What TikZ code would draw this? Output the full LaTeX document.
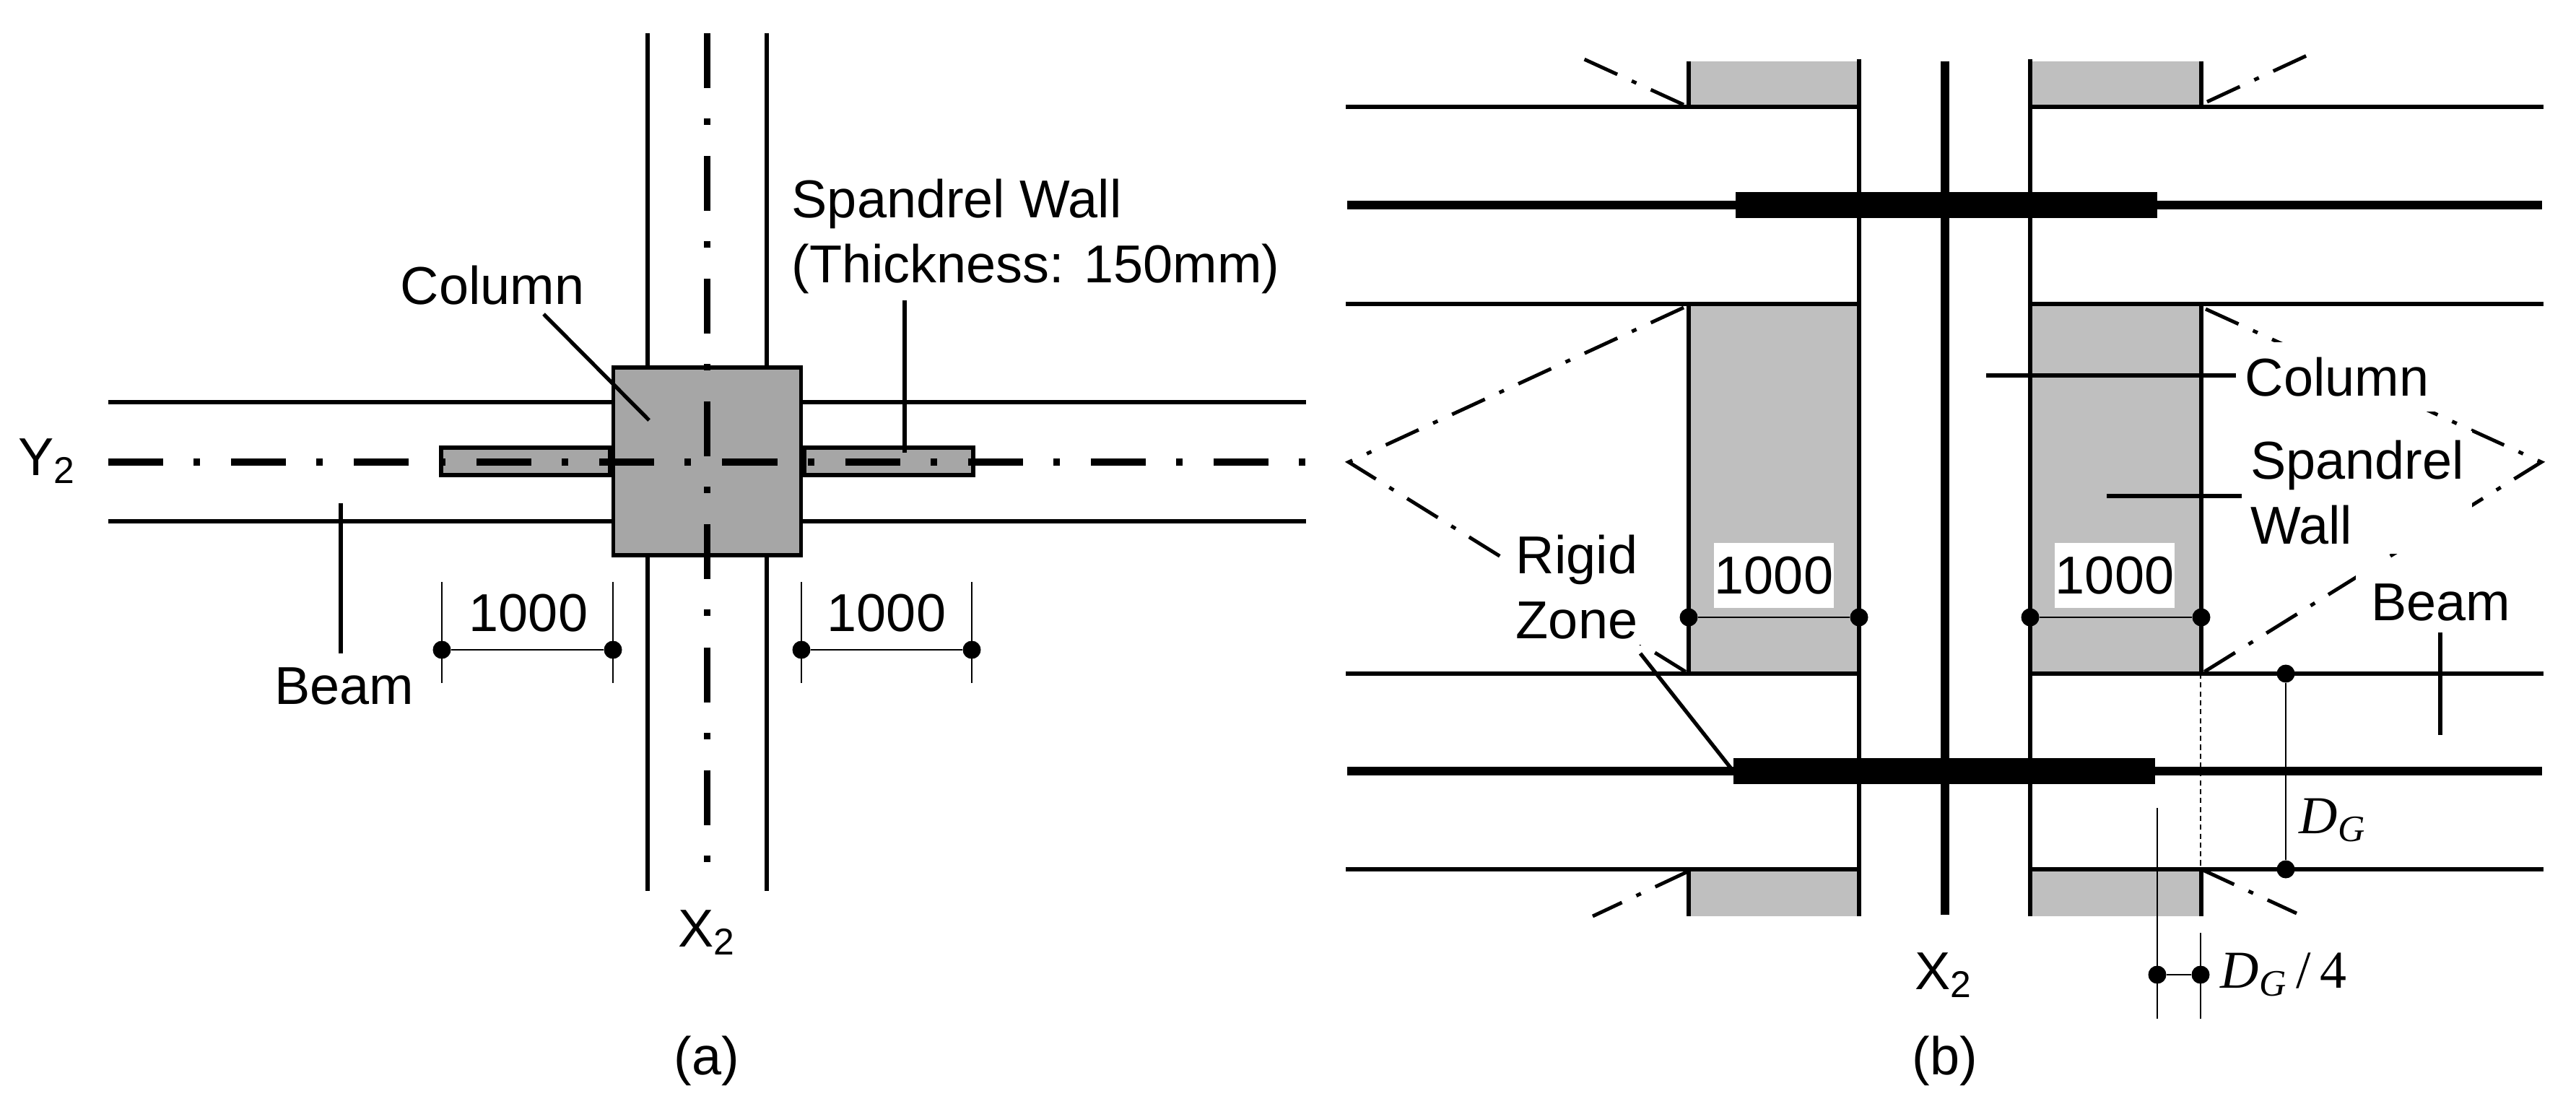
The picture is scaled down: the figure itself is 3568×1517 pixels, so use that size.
\documentclass[tikz,border=0pt]{standalone}
\usepackage{fontspec}
\setmainfont{Liberation Sans}
\newfontfamily\dimfont{Liberation Serif}
\usetikzlibrary{positioning}

\definecolor{colgray}{HTML}{A6A6A6}
\definecolor{zonegray}{HTML}{BFBFBF}
\newcommand{\dimsym}{{\dimfont\itshape D\textsubscript{G}}}

\begin{document}
\begin{tikzpicture}[
    x=0.01cm, y=-0.01cm,
    member/.style={line width=1.5pt},
    axisline/.style={line width=2.6pt, dash pattern=on 0.76cm off 0.42cm on 0.09cm off 0.43cm},
    zoneline/.style={line width=1.4pt, dash pattern=on 0.5cm off 0.22cm on 0.07cm off 0.22cm},
    beamaxis/.style={line width=3.4pt},
    dimline/.style={line width=0.7pt},
    dimdot/.style={circle, fill=black, inner sep=0pt, minimum size=0.25cm},
    colbox/.style={rectangle, draw=black, line width=1.5pt, fill=colgray, minimum size=2.6cm, inner sep=0pt},
    wallbox/.style={rectangle, draw=black, line width=1.5pt, fill=colgray, minimum width=2.33cm, minimum height=0.38cm, inner sep=0pt},
    rigidbar/.style={rectangle, fill=black, inner sep=0pt, minimum width=5.83cm, minimum height=0.36cm},
    txt/.style={font=\fontsize{21}{25.8}\selectfont, inner sep=0pt},
    whitetxt/.style={txt, fill=white, align=left}
]
\useasboundingbox (0,0) rectangle (3568,1517);

% (a) plan
\draw[member] (897,46) -- (897,1234);
\draw[member] (1062,46) -- (1062,1234);
\draw[member] (150,557) -- (1809,557);
\draw[member] (150,722) -- (1809,722);

\node[colbox] (column) at (979.5,639) {};
\node[wallbox, left=0pt of column] (wallL) {};
\node[wallbox, right=0pt of column] (wallR) {};

\draw[axisline] (979.5,46) -- (979.5,1197);
\draw[axisline] (150,640) -- (1809,640);

\node[txt] (Y2) at (65,639) {Y\textsubscript{2}};
\node[txt] (X2a) at (979,1292) {X\textsubscript{2}};
\node[txt] (capA) at (979,1469) {(a)};

\node[txt] (colA) at (682,395) {Column};
\coordinate (colAend) at (899,582);
\draw[member] (753,435) -- (colAend);
\node[txt, align=left, anchor=north west] (wallA) at (1096,247) {Spandrel Wall\\(Thickness: 150mm)};
\coordinate (wallAend) at (1253,627);
\draw[member] (1253,416) -- (wallAend);
\node[txt] (beamA) at (477,950) {Beam};
\coordinate (beamAend) at (472,697);
\draw[member] (472,905) -- (beamAend);

% (a) dimensions
\foreach \nm/\px in {p1/612, p2/849, p3/1110, p4/1346} {
    \node[dimdot] (\nm) at (\px,900) {};
    \draw[dimline] (\px,806) -- (\px,946);
}
\draw[dimline] (p1) -- (p2);
\draw[dimline] (p3) -- (p4);
\node[txt] (dimA1) at (732,849) {1000};
\node[txt] (dimA2) at (1228,849) {1000};

% (b) elevation
\fill[zonegray] (2339,85) rectangle (2575,148);
\fill[zonegray] (2812,85) rectangle (3049,148);
\fill[zonegray] (2339,421) rectangle (2575,933);
\fill[zonegray] (2812,421) rectangle (3049,933);
\fill[zonegray] (2339,1204) rectangle (2575,1269);
\fill[zonegray] (2812,1204) rectangle (3049,1269);

% rigid zone limits
\draw[zoneline] (2332,145) -- (2192,81);
\draw[zoneline] (3057,141) -- (3195,77);
\draw[zoneline] (2332,426) -- (1868,640) -- (2339,933);
\draw[zoneline] (3055,428) -- (3520,640) -- (3049,933);
\draw[zoneline] (2338,1207) -- (2206,1269);
\draw[zoneline] (3049,1204) -- (3181,1265);

\foreach \py in {148,421,933,1204} {
    \draw[member] (1864,\py) -- (2575,\py);
    \draw[member] (2812,\py) -- (3523,\py);
}
\foreach \px in {2575,2812} {
    \draw[member] (\px,82) -- (\px,1269);
}
\foreach \px in {2339,3049} {
    \draw[member] (\px,85) -- (\px,148);
    \draw[member] (\px,421) -- (\px,933);
    \draw[member] (\px,1204) -- (\px,1269);
}

\draw[beamaxis] (2694,85) -- (2694,1267);
\draw[beamaxis] (1866,284) -- (3521,284);
\draw[beamaxis] (1866,1068) -- (3521,1068);
\node[rigidbar] (barT) at (2696,284) {};
\node[rigidbar] (barB) at (2693,1068) {};

% (b) labels
\node[whitetxt, minimum width=2.8cm, minimum height=0.95cm, text width=2.56cm] (colB) at (3238,522) {Column};
\node[whitetxt, minimum width=3.18cm, minimum height=1.7cm] (wallB) at (3265,682) {Spandrel\\Wall};
\node[whitetxt, inner xsep=0.22cm, minimum height=1.1cm] (beamB) at (3381,834) {Beam};
\node[whitetxt, minimum width=1.95cm, minimum height=1.6cm] (rigidB) at (2184,813) {Rigid\\Zone};
\node[txt] (X2b) at (2692,1351) {X\textsubscript{2}};
\node[txt] (capB) at (2694,1469) {(b)};

\coordinate (colBend) at (2751,520);
\draw[member] (colB.west |- colBend) -- (colBend);
\coordinate (wallBend) at (2918,687);
\draw[member] (wallB.west |- wallBend) -- (wallBend);
\coordinate (beamBend) at (3380,1018);
\draw[member] (3380,876) -- (beamBend);
\draw[member] (2272,905) -- (barB.west);

% (b) dimensions
\foreach \nm/\px in {q1/2339, q2/2575, q3/2812, q4/3049} {
    \node[dimdot] (\nm) at (\px,855) {};
}
\draw[dimline] (q1) -- (q2);
\draw[dimline] (q3) -- (q4);
\node[txt, fill=white, minimum width=1.66cm, minimum height=0.9cm] (dimB1) at (2457,797) {1000};
\node[txt, fill=white, minimum width=1.66cm, minimum height=0.9cm] (dimB2) at (2929,797) {1000};

\node[dimdot] (d1) at (3166,933) {};
\node[dimdot] (d2) at (3166,1204) {};
\draw[dimline] (d1) -- (d2);
\node[txt, anchor=west] (dgLabel) at (3184,1136) {\dimsym};
\draw[dimline, dash pattern=on 2pt off 1.5pt] (3048,933) -- (3048,1204);

\draw[dimline] (2988,1119) -- (2988,1411);
\draw[dimline] (3048,1292) -- (3048,1411);
\node[dimdot] (e1) at (2988,1350) {};
\node[dimdot] (e2) at (3048,1350) {};
\draw[dimline] (e1) -- (e2);
\node[txt, anchor=west] (dg4Label) at (3075,1350) {\dimsym{\dimfont\,/\,4}};

\end{tikzpicture}
\end{document}
